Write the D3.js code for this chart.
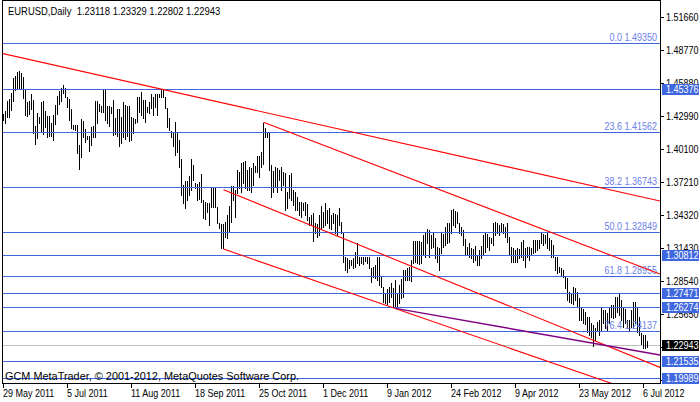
<!DOCTYPE html>
<html><head><meta charset="utf-8">
<script src="https://cdn.jsdelivr.net/npm/d3@7"></script>
<style>body{margin:0;background:#fff}svg{display:block}text{font-family:"Liberation Sans",Arial,sans-serif}</style>
</head><body><svg id="c" width="700" height="402"></svg>
<script>
// ---- data (daily bars, index 0 = 29 May 2011) ----
const highs=[
1.4319,1.4345,1.4433,1.4451,1.4500,1.4637,1.4655,1.4684,1.4694,1.4680,
1.4646,1.4529,1.4427,1.4430,1.4494,1.4442,1.4214,1.4325,1.4290,1.4421,
1.4430,1.4343,1.4302,1.4298,1.4243,1.4313,1.4395,1.4477,1.4521,1.4544,
1.4570,1.4544,1.4465,1.4448,1.4363,1.4223,1.4220,1.4223,1.4048,1.4272,
1.4258,1.4185,1.4129,1.4127,1.4202,1.4214,1.4433,1.4430,1.4404,1.4392,
1.4529,1.4525,1.4392,1.4390,
1.4383,1.4442,1.4281,1.4363,1.4360,1.4296,1.4421,1.4398,1.4392,1.4390,
1.4290,1.4281,1.4278,1.4471,1.4465,1.4509,1.4442,1.4440,1.4383,1.4427,
1.4494,1.4471,1.4494,1.4490,1.4494,1.4529,1.4535,1.4465,1.4369,1.4281,
1.4173,1.4156,1.4252,1.4150,1.4092,1.3922,1.3698,1.3735,1.3730,1.3776,
1.3925,1.3873,1.3712,1.3710,1.3727,1.3791,1.3566,1.3552,1.3543,1.3540,
1.3674,1.3670,1.3674,1.3508,1.3362,1.3356,1.3352,1.3376,1.3435,1.3514,
1.3689,1.3685,1.3654,1.3829,1.3814,1.3887,1.3902,1.3911,1.3829,1.3858,
1.3843,1.3893,1.3864,1.3951,1.3948,1.3989,1.4237,1.4194,1.4159,1.4155,
1.3873,1.3823,1.3858,1.3843,1.3829,1.3858,1.3814,1.3805,1.3639,1.3785,
1.3805,1.3654,1.3639,1.3595,1.3552,1.3550,1.3537,1.3552,1.3531,1.3420,
1.3435,1.3449,1.3362,1.3360,1.3435,1.3514,1.3464,1.3537,1.3478,1.3493,
1.3435,1.3449,1.3443,1.3435,1.3493,
1.3376,1.3289,1.3070,1.3055,1.3041,1.3038,1.3055,1.3114,1.3192,1.3070,
1.3068,1.3070,1.3064,1.3070,1.3066,1.2968,1.2982,1.2997,1.3070,1.3068,
1.2895,1.2807,1.2749,1.2784,1.2801,1.2836,1.2792,1.2865,1.2749,1.2822,
1.2871,1.2953,1.2950,1.2968,1.2982,1.3041,1.3207,1.3204,1.3207,1.3205,
1.3201,1.3260,1.3274,1.3309,1.3306,1.3260,1.3274,1.3230,1.3158,1.3143,
1.3274,1.3270,1.3333,1.3368,1.3365,1.3479,1.3486,1.3473,1.3464,1.3368,
1.3333,1.3303,1.3222,1.3157,1.3192,1.3143,1.3140,1.3163,1.3084,1.3128,
1.3163,1.3260,1.3274,1.3270,1.3245,1.3230,1.3362,1.3371,1.3368,1.3347,
1.3362,1.3360,1.3333,1.3362,1.3245,1.3157,1.3143,1.3128,1.3143,1.3140,
1.3201,1.3216,1.3143,1.3157,1.3155,1.3143,1.3216,1.3214,1.3216,1.3212,
1.3274,1.3272,1.3260,1.3274,1.3230,1.3216,1.3172,1.3070,1.3068,1.2982,
1.2968,1.2953,1.2895,1.2880,1.2763,1.2749,1.2807,1.2793,1.2763,1.2705,
1.2617,1.2615,1.2588,1.2544,1.2540,1.2486,1.2472,1.2442,1.2501,1.2515,
1.2617,1.2603,1.2600,1.2574,1.2617,1.2647,1.2645,1.2720,1.2718,1.2747,
1.2690,1.2617,1.2615,1.2515,1.2512,1.2603,1.2676,1.2672,1.2617,1.2544,
1.2399,1.2384,1.2380,1.2333];
const lows=[
1.4267,1.4243,1.4296,1.4292,1.4354,1.4433,1.4529,1.4544,1.4540,1.4550,
1.4462,1.4310,1.4305,1.4319,1.4366,1.4150,1.4056,1.4109,1.4243,1.4173,
1.4141,1.4202,1.4121,1.4127,1.4125,1.4092,1.4229,1.4322,1.4407,1.4433,
1.4500,1.4471,1.4384,1.4267,1.4199,1.4185,1.4179,1.3975,1.3837,1.3946,
1.4121,1.4077,1.4100,1.3998,1.4048,1.4121,1.4118,1.4237,1.4345,1.4340,
1.4338,1.4267,1.4243,1.4217,
1.4325,1.4135,1.4144,1.4127,1.4039,1.4062,1.4115,1.4100,1.4130,1.4083,
1.4092,1.4150,1.4238,1.4252,1.4340,1.4310,1.4281,1.4252,1.4340,1.4325,
1.4369,1.4310,1.4383,1.4308,1.4465,1.4471,1.4465,1.4369,1.4208,1.4179,
1.4121,1.4039,1.3960,1.3989,1.3852,1.3610,1.3537,1.3495,1.3566,1.3610,
1.3654,1.3741,1.3668,1.3566,1.3572,1.3552,1.3406,1.3397,1.3464,1.3347,
1.3508,1.3505,1.3508,1.3362,1.3318,1.3146,1.3143,1.3245,1.3231,1.3298,
1.3376,1.3566,1.3420,1.3624,1.3668,1.3639,1.3712,1.3668,1.3654,1.3652,
1.3639,1.3698,1.3814,1.3812,1.3770,1.3858,1.3880,1.4121,1.4115,1.3829,
1.3595,1.3639,1.3683,1.3639,1.3741,1.3654,1.3698,1.3478,1.3493,1.3581,
1.3566,1.3522,1.3478,1.3475,1.3435,1.3420,1.3478,1.3435,1.3391,1.3347,
1.3345,1.3211,1.3274,1.3245,1.3260,1.3318,1.3333,1.3347,1.3362,1.3318,
1.3315,1.3362,1.3274,1.3260,1.3347,
1.3274,1.3026,1.2953,1.2938,1.2968,1.2997,1.2968,1.2982,1.3011,1.2997,
1.3011,1.3008,1.3032,1.3011,1.2968,1.2851,1.2895,1.2880,1.2866,1.2822,
1.2807,1.2676,1.2661,1.2658,1.2676,1.2720,1.2630,1.2624,1.2640,1.2660,
1.2705,1.2720,1.2866,1.2862,1.2866,1.2860,1.3011,1.3026,1.3011,1.3008,
1.3011,1.3084,1.3070,1.3187,1.3070,1.3143,1.3158,1.3055,1.3026,1.2953,
1.3099,1.3157,1.3172,1.3187,1.3201,1.3274,1.3347,1.3333,1.3362,1.3274,
1.3260,1.3172,1.3084,1.3080,1.3070,1.3055,1.3026,1.3041,1.2997,1.2995,
1.3055,1.3084,1.3114,1.3157,1.3128,1.3187,1.3172,1.3260,1.3274,1.3260,
1.3289,1.3274,1.3245,1.3201,1.3084,1.3026,1.3024,1.3026,1.3022,1.3055,
1.3070,1.3041,1.2982,1.3070,1.3041,1.3084,1.3099,1.3114,1.3128,1.3143,
1.3187,1.3172,1.3187,1.3143,1.3128,1.3070,1.3068,1.2953,1.2924,1.2939,
1.2909,1.2895,1.2793,1.2690,1.2676,1.2661,1.2658,1.2690,1.2632,1.2515,
1.2512,1.2486,1.2484,1.2413,1.2384,1.2369,1.2288,1.2340,1.2428,1.2384,
1.2428,1.2486,1.2442,1.2428,1.2486,1.2544,1.2530,1.2544,1.2588,1.2559,
1.2515,1.2457,1.2486,1.2442,1.2428,1.2457,1.2457,1.2486,1.2413,1.2384,
1.2305,1.2267,1.2273,1.2280];
const priceTicks=[1.51660,1.48770,1.45880,1.42990,1.40100,1.37210,1.34320,1.31430,1.28540,1.25650,1.22760,1.19870];
const dateLabels=["29 May 2011","5 Jul 2011","11 Aug 2011","18 Sep 2011","25 Oct 2011","1 Dec 2011","9 Jan 2012","24 Feb 2012","9 Apr 2012","23 May 2012","6 Jul 2012"];
const dateIndex=[0,32,64,96,128,160,192,224,256,288,320];
const fiboRatios=["0.0","23.6","38.2","50.0","61.8","76.4"];
const fiboPrices=[1.49350,1.41562,1.36743,1.32849,1.28955,1.24137];
const levelPrices=[1.45376,1.30812,1.27471,1.26274,1.21535,1.19989];
const lastPrice=1.22943;
const symbolTitle="EURUSD,Daily";
const lastOHLC=[1.23118,1.23329,1.22802,1.22943];
const copyright="GCM MetaTrader, \u00a9 2001-2012, MetaQuotes Software Corp.";
// trend lines: [index1, price1, index2, price2, extendLeft]
const redLines=[[0,1.48464,322,1.35818,true],[130,1.4247,328.25,1.2917,false],[110,1.3656,328.25,1.2100,false],[110,1.3137,302,1.1972,false]];
const purpleLines=[[196,1.2617,328.25,1.2209,false]];

// ---- drawing ----
const svg=d3.select("#c");
const W=700,H=402,L=2,R=660,T=0,B=383;
const x=d3.scaleLinear().domain([0,322]).range([3.5,647.5]);
const y=d3.scaleLinear().domain([1.19870,1.51660]).range([380.3,17.3]);
const py=v=>Math.floor(y(v))+0.5;
const SX=0.9;
svg.append("rect").attr("width",W).attr("height",H).attr("fill","#fff");
svg.append("defs").append("clipPath").attr("id","pc").append("rect").attr("x",L+1).attr("y",T+1).attr("width",R-L-1).attr("height",B-T-1);
const plot=svg.append("g").attr("clip-path","url(#pc)");
function txt(g,x0,y0,s,size,sx){return g.append("text").attr("transform",`translate(${x0},${y0}) scale(${sx},1)`).attr("font-size",size).text(s);}

// current price line
plot.append("line").attr("x1",L).attr("x2",R).attr("y1",py(lastPrice)).attr("y2",py(lastPrice)).attr("stroke","#c0c0c0").attr("stroke-width",1);

// bars
plot.append("g").attr("shape-rendering","crispEdges").selectAll("line").data(d3.range(Math.min(highs.length,lows.length))).join("line")
 .attr("x1",i=>x(i)).attr("x2",i=>x(i)).attr("y1",i=>y(highs[i])).attr("y2",i=>y(lows[i])+1)
 .attr("stroke","#000").attr("stroke-width",1);

// horizontal levels
const hl=plot.append("g").attr("shape-rendering","crispEdges");
fiboPrices.concat(levelPrices).forEach(p=>{hl.append("line").attr("x1",L).attr("x2",R).attr("y1",py(p)).attr("y2",py(p)).attr("stroke","#3f68e0").attr("stroke-width",1);});
fiboPrices.forEach((p,k)=>{txt(plot,657,py(p)-2.5,fiboRatios[k]+" "+p.toFixed(5),"10px",SX).attr("text-anchor","end").attr("fill","#6a7ee8");});

// trend lines
function trend(d,color,w){
  const [i1,p1,i2,p2,ext]=d;
  const s=(y(p2)-y(p1))/(x(i2)-x(i1));
  const xa=ext?L:x(i1), ya=y(p1)+s*(xa-x(i1));
  const xb=R, yb=y(p1)+s*(xb-x(i1));
  plot.append("line").attr("x1",xa).attr("y1",ya).attr("x2",xb).attr("y2",yb).attr("stroke",color).attr("stroke-width",w);
}
redLines.forEach(d=>trend(d,"#ff0000",1.1));
purpleLines.forEach(d=>trend(d,"#800080",1.4));

// frame
const fr=svg.append("g").attr("shape-rendering","crispEdges").attr("stroke","#000");
fr.append("line").attr("x1",L+0.5).attr("x2",L+0.5).attr("y1",0).attr("y2",B+1);
fr.append("line").attr("x1",R+0.5).attr("x2",R+0.5).attr("y1",0).attr("y2",B+1);
fr.append("line").attr("x1",L).attr("x2",R+1).attr("y1",0.5).attr("y2",0.5);
fr.append("line").attr("x1",L).attr("x2",R+1).attr("y1",B+0.5).attr("y2",B+0.5);

// price axis (labels fully covered by a marker box are not drawn, as in the reference)
const ax=svg.append("g");
const boxed=levelPrices.concat([lastPrice]);
priceTicks.forEach(p=>{
  ax.append("line").attr("x1",R).attr("x2",R+4).attr("y1",py(p)).attr("y2",py(p)).attr("stroke","#000").attr("shape-rendering","crispEdges");
  if(boxed.some(b=>Math.abs(y(b)-y(p))<3)) return;
  txt(ax,666,py(p)+3.5,p.toFixed(5),"10px",SX).attr("fill","#000");
});
levelPrices.forEach(p=>{
  ax.append("rect").attr("x",R+2).attr("y",py(p)-5.5).attr("width",W-R-3).attr("height",11).attr("fill","#3f68e0");
  txt(ax,666,py(p)+3.5,p.toFixed(5),"10px",SX).attr("fill","#fff");
});
ax.append("rect").attr("x",R+2).attr("y",py(lastPrice)-5.5).attr("width",W-R-3).attr("height",11).attr("fill","#000");
txt(ax,666,py(lastPrice)+3.5,lastPrice.toFixed(5),"10px",SX).attr("fill","#fff");

// time axis
dateIndex.forEach((i,k)=>{
  ax.append("line").attr("x1",x(i)).attr("x2",x(i)).attr("y1",B+1).attr("y2",B+5).attr("stroke","#000").attr("shape-rendering","crispEdges");
  txt(ax,x(i)-0.5,397,dateLabels[k],"10px",SX).attr("fill","#000");
});

// title & copyright
txt(svg,8,15,symbolTitle+"\u00a0\u00a0"+lastOHLC.map(v=>v.toFixed(5)).join(" "),"10.5px",SX).attr("fill","#000");
txt(svg,5,380,copyright,"10.5px",1).attr("fill","#000").attr("textLength",294).attr("lengthAdjust","spacingAndGlyphs");
</script></body></html>
